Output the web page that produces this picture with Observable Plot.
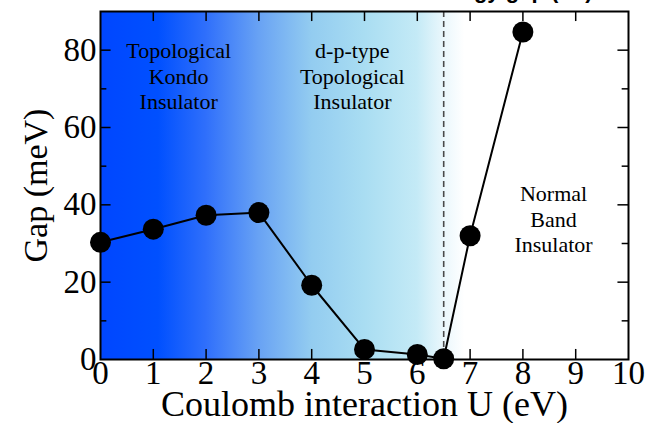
<!DOCTYPE html>
<html>
<head>
<meta charset="utf-8">
<script src="https://cdn.jsdelivr.net/npm/d3@7"></script>
<script src="https://cdn.jsdelivr.net/npm/@observablehq/plot@0.6"></script>
<style>
  html, body { margin: 0; padding: 0; background: #fff; }
  #chart { width: 652px; height: 423px; overflow: hidden; }
</style>
</head>
<body>
<div id="chart"></div>
<script>
// Gap vs. Coulomb interaction U
const uValues = [0, 1, 2, 3, 4, 5, 6, 6.5, 7, 8];
const gapValues = [30.3, 33.7, 37.3, 38.0, 19.2, 2.6, 1.3, 0.2, 32.0, 84.7];

// phase boundary
const boundaryU = [6.5];

// background shading: stops along U
const shadeStops = [0, 1.1, 2.0, 3.0, 4.0, 5.0, 6.0, 6.5, 6.9];
const shadeColors = ["#0046ff", "#0050ff", "#2f6ffb", "#68a2f4", "#93ccf0", "#a9ddf2", "#c4eaf6", "#eaf7fc", "#ffffff"];
const shadeEnd = 7;

const xTicks = [0, 1, 2, 3, 4, 5, 6, 7, 8, 9, 10];
const yTicks = [0, 20, 40, 60, 80];
const yMinor = [10, 30, 50, 70];

const regionLabels = [
  {u: 1.48, gap: 73.4, text: "Topological\nKondo\nInsulator"},
  {u: 4.77, gap: 73.4, text: "d-p-type\nTopological\nInsulator"},
  {u: 8.58, gap: 36.5, text: "Normal\nBand\nInsulator"}
];

const data = uValues.map((u, i) => ({u, gap: gapValues[i]}));
const serif = "'Liberation Serif', 'DejaVu Serif', serif";

const chart = Plot.plot({
  width: 652,
  height: 423,
  marginLeft: 100,
  marginRight: 24,
  marginTop: 11,
  marginBottom: 64,
  style: {fontFamily: serif, background: "transparent", overflow: "visible"},
  x: {domain: [0, 10], ticks: xTicks},
  y: {domain: [0, 90], ticks: yTicks},
  marks: [
    Plot.rect([{x1: 0, x2: shadeEnd, y1: 0, y2: 90}], {x1: "x1", x2: "x2", y1: "y1", y2: "y2", fill: "url(#shade)"}),
    Plot.ruleX(boundaryU, {stroke: "#4a4a4a", strokeWidth: 1.6, strokeDasharray: "6,4"}),
    // inward ticks
    Plot.ruleX(xTicks.slice(1, -1), {y1: 0, y2: 2.6, stroke: "black", strokeWidth: 1.5}),
    Plot.ruleX(xTicks.slice(1, -1), {y1: 87.4, y2: 90, stroke: "black", strokeWidth: 1.5}),
    Plot.ruleY(yTicks.slice(1), {x1: 0, x2: 0.2, stroke: "black", strokeWidth: 1.5}),
    Plot.ruleY(yTicks.slice(1), {x1: 9.8, x2: 10, stroke: "black", strokeWidth: 1.5}),
    Plot.ruleY(yMinor, {x1: 0, x2: 0.12, stroke: "black", strokeWidth: 1.5}),
    Plot.ruleY(yMinor, {x1: 9.88, x2: 10, stroke: "black", strokeWidth: 1.5}),
    Plot.axisX(xTicks, {tickSize: 0, tickPadding: 1, fontSize: 33, label: null, fill: "black"}),
    Plot.axisY(yTicks, {tickSize: 0, tickPadding: 4, fontSize: 33, label: null, fill: "black"}),
    Plot.text(regionLabels, {x: "u", y: "gap", text: "text", fontSize: 22, lineHeight: 1.16, textAnchor: "middle", fill: "black"}),
    Plot.line(data, {x: "u", y: "gap", stroke: "black", strokeWidth: 2}),
    Plot.dot(data, {x: "u", y: "gap", r: 10.5, fill: "black", stroke: "none"}),
    Plot.frame({stroke: "black", strokeWidth: 2}),
    Plot.text(["Coulomb interaction U (eV)"], {frameAnchor: "bottom", dy: 56, fontSize: 36, fill: "black"}),
    Plot.text(["Gap (meV)"], {frameAnchor: "left", dx: -64, rotate: -90, textAnchor: "middle", fontSize: 34, fill: "black"}),
    Plot.text(["Energy gap (eV)"], {frameAnchor: "top-right", dx: -36, dy: -14, lineAnchor: "bottom", textAnchor: "end", fontSize: 22, fontWeight: "bold", fontFamily: "'Liberation Sans', Arial, sans-serif", fill: "black"})
  ]
});

// gradient used by the shaded background rect
const ns = "http://www.w3.org/2000/svg";
const defs = document.createElementNS(ns, "defs");
const grad = document.createElementNS(ns, "linearGradient");
grad.setAttribute("id", "shade");
grad.setAttribute("x1", "0"); grad.setAttribute("x2", "1");
grad.setAttribute("y1", "0"); grad.setAttribute("y2", "0");
shadeStops.forEach((s, i) => {
  const stop = document.createElementNS(ns, "stop");
  stop.setAttribute("offset", String(s / shadeEnd));
  stop.setAttribute("stop-color", shadeColors[i]);
  grad.appendChild(stop);
});
defs.appendChild(grad);
chart.insertBefore(defs, chart.firstChild);

document.getElementById("chart").appendChild(chart);
</script>
</body>
</html>
